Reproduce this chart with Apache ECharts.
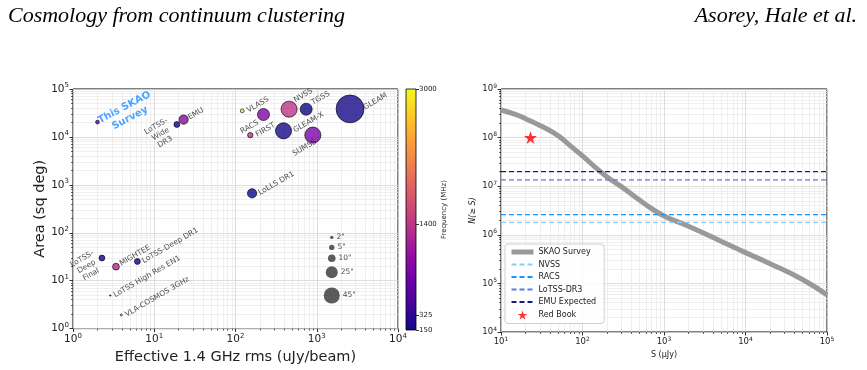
<!DOCTYPE html>
<html>
<head>
<meta charset="utf-8">
<script src="https://cdn.jsdelivr.net/npm/echarts@6/dist/echarts.min.js"></script>
<style>
html, body { margin: 0; padding: 0; background: #fff; }
#chart { width: 867px; height: 370px; }
</style>
</head>
<body>
<div id="chart"></div>
<script>
// left panel: survey area vs effective 1.4 GHz rms
const surveyNames = ['This SKAO Survey', 'LoTSS-Wide DR3', 'EMU', 'VLASS', 'RACS', 'FIRST', 'NVSS', 'TGSS',
  'GLEAM-X', 'SUMSS', 'GLEAM', 'LoLLS DR1', 'LoTSS-Deep Final', 'MIGHTEE', 'LoTSS-Deep DR1',
  'LoTSS High Res EN1', 'VLA-COSMOS 3GHz']
const surveyRms = [2.0, 19, 23, 121, 221, 152, 457, 741, 390, 895, 2570, 160, 2.27, 3.38, 6.2, 2.88, 3.93]
const surveyArea = [20400, 18200, 23000, 35000, 29300, 10900, 37900, 37900, 13400, 10900, 38400, 665, 29.7, 19.6, 25.2, 4.9, 1.92]
const surveyFreq = [700, 144, 944, 3000, 888, 1400, 1400, 150, 200, 843, 200, 54, 144, 1284, 144, 144, 3000]
const surveyBeam = [2.5, 6, 15, 2.5, 25, 5, 45, 25, 45, 45, 135, 15, 6, 8, 6, 0.3, 0.75]

// beam size key
const keyBeam = [2, 5, 10, 25, 45]
const keyRms = [1530, 1530, 1530, 1530, 1530]
const keyArea = [80, 49.5, 29.3, 15, 4.9]

// colorbar
const freqMin = 150
const freqMax = 3000
const freqTicks = [150, 325, 1400, 3000]

// right panel: cumulative source counts
const fluxS = [10, 15, 20, 30, 50, 70, 100, 150, 200, 300, 500, 700, 1000, 2000, 5000, 1e4, 2e4, 5e4, 1e5]
const countsSkao = [3.7e8, 3.0e8, 2.45e8, 1.78e8, 1.1e8, 6.9e7, 4.2e7, 2.3e7, 1.55e7, 9.8e6, 5.2e6, 3.5e6,
  2.45e6, 1.5e6, 7.4e5, 4.3e5, 2.55e5, 1.2e5, 5.8e4]
const refNames = ['NVSS', 'RACS', 'LoTSS-DR3', 'EMU Expected']
const refCounts = [1.8e6, 2.6e6, 1.35e7, 2.0e7]
const redBookS = [23]
const redBookN = [1.0e8]

const plasmaStops = ['#0d0887', '#41049d', '#6a00a8', '#8f0da4', '#b12a90', '#cc4778',
  '#e16462', '#f2844b', '#fca636', '#fcce25', '#f0f921']
const refColors = ['#87cefa', '#1e90ff', '#5b7be6', '#1a1a80']
const FONT = 'DejaVu Sans'

function hexRgb(h) {
  return [parseInt(h.slice(1, 3), 16), parseInt(h.slice(3, 5), 16), parseInt(h.slice(5, 7), 16)]
}
function plasma(t) {
  t = Math.max(0, Math.min(1, t))
  let p = t * 10
  let i = Math.min(9, Math.floor(p))
  let f = p - i
  let a = hexRgb(plasmaStops[i]), b = hexRgb(plasmaStops[i + 1])
  let c = a.map((v, k) => Math.round(v + (b[k] - v) * f))
  return 'rgb(' + c.join(',') + ')'
}

// label placement for each survey name
const labelPlace = {
  'This SKAO Survey': { formatter: 'This SKAO\nSurvey', position: [32, -7], align: 'center', verticalAlign: 'middle',
    rotate: 28, fontSize: 10, fontWeight: 'bold', color: '#1e90ff', lineHeight: 12 },
  'LoTSS-Wide DR3': { formatter: 'LoTSS-\nWide\nDR3', position: [-13, 13], align: 'center', verticalAlign: 'middle', lineHeight: 9 },
  'EMU': { position: 'right', distance: 1, offset: [0, -2] },
  'VLASS': { position: 'right', distance: 3 },
  'RACS': { position: 'left', distance: 2, offset: [-1, 8] },
  'FIRST': { position: 'right', distance: 3 },
  'NVSS': { position: 'right', distance: 2, offset: [0, -10] },
  'TGSS': { position: 'right', distance: 3, offset: [0, -7] },
  'GLEAM-X': { position: 'right', distance: 2 },
  'SUMSS': { position: 'left', distance: 0, offset: [7, 11] },
  'GLEAM': { position: 'right', distance: 0, offset: [0, -1] },
  'LoLLS DR1': { position: 'right', distance: 2 },
  'LoTSS-Deep Final': { formatter: 'LoTSS-\nDeep\nFinal', position: [-12, 12], align: 'center', verticalAlign: 'middle', lineHeight: 9 },
  'MIGHTEE': { position: 'right', distance: 2, offset: [0, -3] },
  'LoTSS-Deep DR1': { position: 'right', distance: 2 },
  'LoTSS High Res EN1': { position: 'right', distance: 3 },
  'VLA-COSMOS 3GHz': { position: 'right', distance: 3 }
}

function beamSize(b) { return 2.4 * Math.sqrt(b) }

function decades(lo, hi) {
  let out = []
  for (let e = lo; e <= hi; e++) out.push(Math.pow(10, e))
  return out
}
function minors(lo, hi) {
  let out = []
  for (let e = lo; e < hi; e++) for (let m = 2; m <= 9; m++) out.push(m * Math.pow(10, e))
  return out
}

function powLabel(v) {
  return '{b|10}{s|' + Math.round(Math.log10(v)) + '}'
}

// major log axis with labels at powers of ten
function majorAxis(grid, lo, hi, big, extra) {
  let vals = decades(lo, hi)
  return Object.assign({
    type: 'log', gridIndex: grid, min: Math.pow(10, lo), max: Math.pow(10, hi),
    axisLine: { show: false },
    axisTick: { show: true, customValues: vals, length: 3.5, lineStyle: { color: '#000', width: 0.8 } },
    axisLabel: {
      customValues: vals, formatter: powLabel, color: '#222', margin: 4,
      rich: {
        b: { fontSize: big ? 10.5 : 8.5, fontFamily: FONT, color: '#222' },
        s: { fontSize: big ? 7 : 6, fontFamily: FONT, color: '#222', padding: [0, 0, big ? 7 : 6, 0] }
      }
    },
    splitLine: { show: true, lineStyle: { color: '#d4d4d4', width: 0.8 } },
    nameLocation: 'middle',
    nameTextStyle: { fontFamily: FONT, color: '#222' }
  }, extra)
}
// twin axis that only carries the minor ticks and minor grid lines
function minorAxis(grid, lo, hi, pos) {
  return {
    type: 'log', gridIndex: grid, min: Math.pow(10, lo), max: Math.pow(10, hi), position: pos,
    axisLine: { show: false },
    axisTick: { show: true, customValues: minors(lo, hi), length: 2, lineStyle: { color: '#000', width: 0.6 } },
    axisLabel: { show: false },
    splitLine: { show: true, lineStyle: { color: '#e8e8e8', width: 0.7 } }
  }
}

const chart = echarts.init(document.getElementById('chart'))

const surveyData = surveyNames.map((n, i) => {
  let lp = labelPlace[n] || {}
  return {
    name: n,
    value: [surveyRms[i], surveyArea[i], surveyFreq[i], surveyBeam[i]],
    symbolSize: beamSize(surveyBeam[i]),
    itemStyle: { color: plasma((surveyFreq[i] - freqMin) / (freqMax - freqMin)) },
    label: Object.assign({ show: true, rotate: 30, fontSize: 7.5, fontFamily: FONT, color: '#222', formatter: n }, lp)
  }
})

const keyData = keyBeam.map((b, i) => ({
  value: [keyRms[i], keyArea[i]],
  symbolSize: beamSize(b),
  label: { show: true, position: 'right', distance: 3, formatter: b + '"', fontSize: 7.5, fontFamily: FONT, color: '#222' }
}))

const plasmaGradient = {
  type: 'linear', x: 0, y: 1, x2: 0, y2: 0,
  colorStops: plasmaStops.map((c, i) => ({ offset: i / 10, color: c }))
}

const titleStyle = { fontFamily: 'Liberation Serif', fontStyle: 'italic', fontWeight: 'normal', fontSize: 22, color: '#000' }

const option = {
  backgroundColor: '#fff',
  animation: false,
  title: [
    { text: 'Cosmology from continuum clustering', left: 3, top: 0, textStyle: titleStyle },
    { text: 'Asorey, Hale et al.', right: 5, top: 0, textStyle: titleStyle }
  ],
  grid: [
    { left: 73, top: 89, width: 325, height: 241, show: true, borderColor: '#000', borderWidth: 1, backgroundColor: 'transparent' },
    { left: 406, top: 89, width: 10, height: 241, show: true, borderColor: '#000', borderWidth: 0.8, backgroundColor: plasmaGradient },
    { left: 501, top: 89, width: 326, height: 243, show: true, borderColor: '#000', borderWidth: 1, backgroundColor: 'transparent' }
  ],
  xAxis: [
    majorAxis(0, 0, 4, true, { name: 'Effective 1.4 GHz rms (uJy/beam)', nameGap: 17, nameTextStyle: { fontFamily: FONT, fontSize: 14.5, color: '#222' } }),
    minorAxis(0, 0, 4, 'bottom'),
    { type: 'category', gridIndex: 1, data: [''], show: false },
    majorAxis(2, 1, 5, false, { name: 'S (\u03bcJy)', nameGap: 16, nameTextStyle: { fontFamily: FONT, fontSize: 8, color: '#222' } }),
    minorAxis(2, 1, 5, 'bottom')
  ],
  yAxis: [
    majorAxis(0, 0, 5, true, { name: 'Area (sq deg)', nameGap: 22, nameTextStyle: { fontFamily: FONT, fontSize: 14.5, color: '#222' } }),
    minorAxis(0, 0, 5, 'left'),
    {
      type: 'value', gridIndex: 1, min: freqMin, max: freqMax, position: 'right',
      axisLine: { show: false },
      axisTick: { show: true, customValues: freqTicks, length: 3, lineStyle: { color: '#000', width: 0.8 } },
      axisLabel: { customValues: freqTicks, formatter: v => String(v), fontSize: 7, fontFamily: FONT, color: '#222', margin: 3 },
      splitLine: { show: false },
      name: 'Frequency (MHz)', nameLocation: 'middle', nameRotate: 90, nameGap: 24,
      nameTextStyle: { fontFamily: FONT, fontSize: 7, color: '#222' }
    },
    majorAxis(2, 4, 9, false, { name: 'N(\u2265 S)', nameGap: 24, nameTextStyle: { fontFamily: FONT, fontSize: 8, fontStyle: 'italic', color: '#222' } }),
    minorAxis(2, 4, 9, 'left')
  ],
  legend: {
    data: [{ name: 'SKAO Survey', itemStyle: { opacity: 0 }, lineStyle: { width: 5, color: '#999' } }]
      .concat(refNames.map(n => ({ name: n, itemStyle: { opacity: 0 } })))
      .concat([{ name: 'Red Book' }]),
    orient: 'vertical', left: 505, top: 244,
    itemWidth: 22, itemHeight: 9, itemGap: 4.5,
    padding: [4, 8, 4, 4],
    textStyle: { fontSize: 8, fontFamily: FONT, color: '#222' },
    borderColor: '#cfcfcf', borderWidth: 1, borderRadius: 3,
    backgroundColor: 'rgba(255,255,255,0.85)'
  },
  series: [
    {
      name: 'surveys', type: 'scatter', xAxisIndex: 0, yAxisIndex: 0,
      data: surveyData, z: 5,
      itemStyle: { borderColor: '#000', borderWidth: 0.8 }
    },
    {
      name: 'beam key', type: 'scatter', xAxisIndex: 0, yAxisIndex: 0,
      data: keyData, z: 5,
      itemStyle: { color: '#333' }
    },
    {
      name: 'SKAO Survey', type: 'line', xAxisIndex: 3, yAxisIndex: 3,
      data: fluxS.map((s, i) => [s, countsSkao[i]]),
      smooth: true, symbol: 'none', z: 3,
      itemStyle: { color: '#999' },
      lineStyle: { color: '#999', width: 5 }
    }
  ].concat(refNames.map((n, i) => ({
    name: n, type: 'line', xAxisIndex: 3, yAxisIndex: 3,
    data: [[10, refCounts[i]], [1e5, refCounts[i]]],
    symbol: 'none', z: 4,
    itemStyle: { color: refColors[i] },
    lineStyle: { color: refColors[i], width: 1.3, type: [5, 3] }
  }))).concat([
    {
      name: 'Red Book', type: 'scatter', xAxisIndex: 3, yAxisIndex: 3,
      data: redBookS.map((s, i) => [s, redBookN[i]]),
      symbol: 'path://M12,0 L14.9,8.6 L24,8.6 L16.6,14 L19.4,22.6 L12,17.3 L4.6,22.6 L7.4,14 L0,8.6 L9.1,8.6 Z',
      symbolSize: 13, z: 6,
      itemStyle: { color: '#ff0000' }
    }
  ])
}

chart.setOption(option)
</script>
</body>
</html>
